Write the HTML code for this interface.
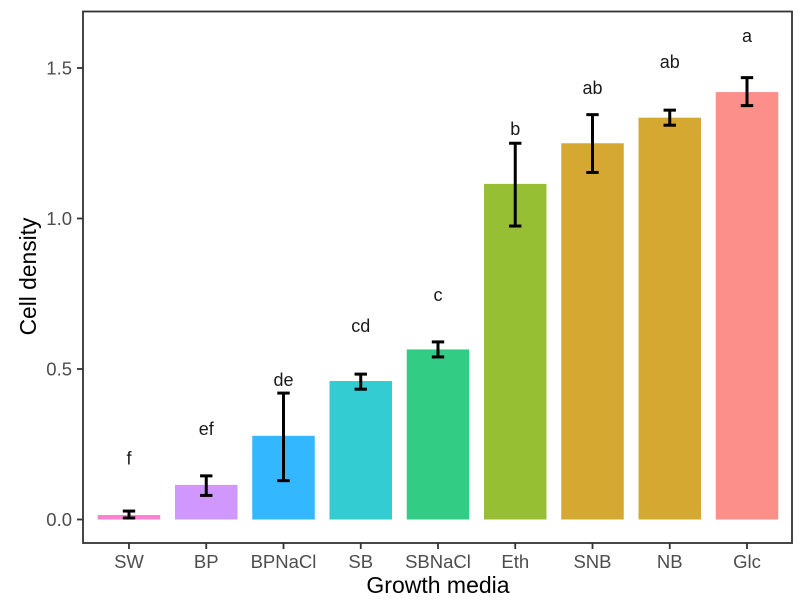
<!DOCTYPE html>
<html>
<head>
<meta charset="utf-8">
<style>
html,body{margin:0;padding:0;background:#fff;}
svg{display:block;font-family:"Liberation Sans",sans-serif;}
</style>
</head>
<body>
<svg id="chart" xmlns="http://www.w3.org/2000/svg" width="800" height="613" viewBox="0 0 800 613"></svg>
<script>
const categories = ["SW","BP","BPNaCl","SB","SBNaCl","Eth","SNB","NB","Glc"];
const means = [0.015,0.115,0.278,0.46,0.565,1.115,1.25,1.335,1.42];
const errLow = [0.005,0.08,0.129,0.433,0.54,0.975,1.153,1.31,1.375];
const errHigh = [0.028,0.145,0.42,0.483,0.59,1.25,1.345,1.36,1.468];
const letters = ["f","ef","de","cd","c","b","ab","ab","a"];
const letterY = [0.203,0.30,0.463,0.643,0.746,1.297,1.434,1.52,1.606];
const barColors = ["#FF7FD0","#D098FF","#33B8FF","#33CCD2","#33CC85","#97BF33","#D5A832","#D5A832","#FC8F8A"];
const yTicks = [0,0.5,1,1.5];
const yTickLabels = ["0.0","0.5","1.0","1.5"];

const svg = document.getElementById('chart');
const NS = 'http://www.w3.org/2000/svg';
const panel = {l:83, r:792, t:11.5, b:543};
function yScale(v){ return 519.5 - v * 301; }
function xScale(i){ return 129 + i * 77.25; }
function mk(tag, attrs, parent){
  const el = document.createElementNS(NS, tag);
  for (const k in attrs) el.setAttribute(k, attrs[k]);
  (parent || svg).appendChild(el);
  return el;
}
const BAR_W = 62.5, CAP = 6.2;

categories.forEach((c,i)=>{
  const x = xScale(i), yTop = yScale(means[i]), y0 = yScale(0);
  const bar = mk('rect',{x:x-BAR_W/2,y:yTop,width:BAR_W,height:y0-yTop,fill:barColors[i]});
  
  
});

categories.forEach((c,i)=>{
  const x = xScale(i), yh = yScale(errHigh[i]), yl = yScale(errLow[i]);
  const g = mk('g',{stroke:'#000','stroke-width':3,fill:'none'});
  
  
  mk('line',{x1:x,x2:x,y1:yh,y2:yl},g);
  mk('line',{x1:x-CAP,x2:x+CAP,y1:yh,y2:yh},g);
  mk('line',{x1:x-CAP,x2:x+CAP,y1:yl,y2:yl},g);
});

categories.forEach((c,i)=>{
  const t = mk('text',{x:xScale(i),y:yScale(letterY[i])+6,'text-anchor':'middle','font-size':18,fill:'#1a1a1a'});
  t.textContent = letters[i];
  
  
});

const frame = mk('rect',{x:panel.l,y:panel.t,width:panel.r-panel.l,height:panel.b-panel.t,fill:'none',stroke:'#333','stroke-width':1.8});



yTicks.forEach((v,i)=>{
  const y = yScale(v);
  const tick = mk('line',{x1:panel.l-6,x2:panel.l,y1:y,y2:y,stroke:'#333','stroke-width':1.8});
  
  
  const t = mk('text',{x:72,y:y+6.5,'text-anchor':'end','font-size':18.5,fill:'#4d4d4d'});
  t.textContent = yTickLabels[i];
  
  
});

categories.forEach((c,i)=>{
  const x = xScale(i);
  const tick = mk('line',{x1:x,x2:x,y1:panel.b,y2:panel.b+6,stroke:'#333','stroke-width':1.8});
  
  
  const t = mk('text',{x:x,y:568,'text-anchor':'middle','font-size':18.5,fill:'#4d4d4d'});
  t.textContent = c;
  
  
});

const xTitle = mk('text',{x:438,y:593,'text-anchor':'middle','font-size':23,fill:'#000'});
xTitle.textContent = 'Growth media';



const yTitle = mk('text',{x:0,y:0,'text-anchor':'middle','font-size':22.8,fill:'#000',transform:'translate(36 276.5) rotate(-90)'});
yTitle.textContent = 'Cell density';


</script>
</body>
</html>
